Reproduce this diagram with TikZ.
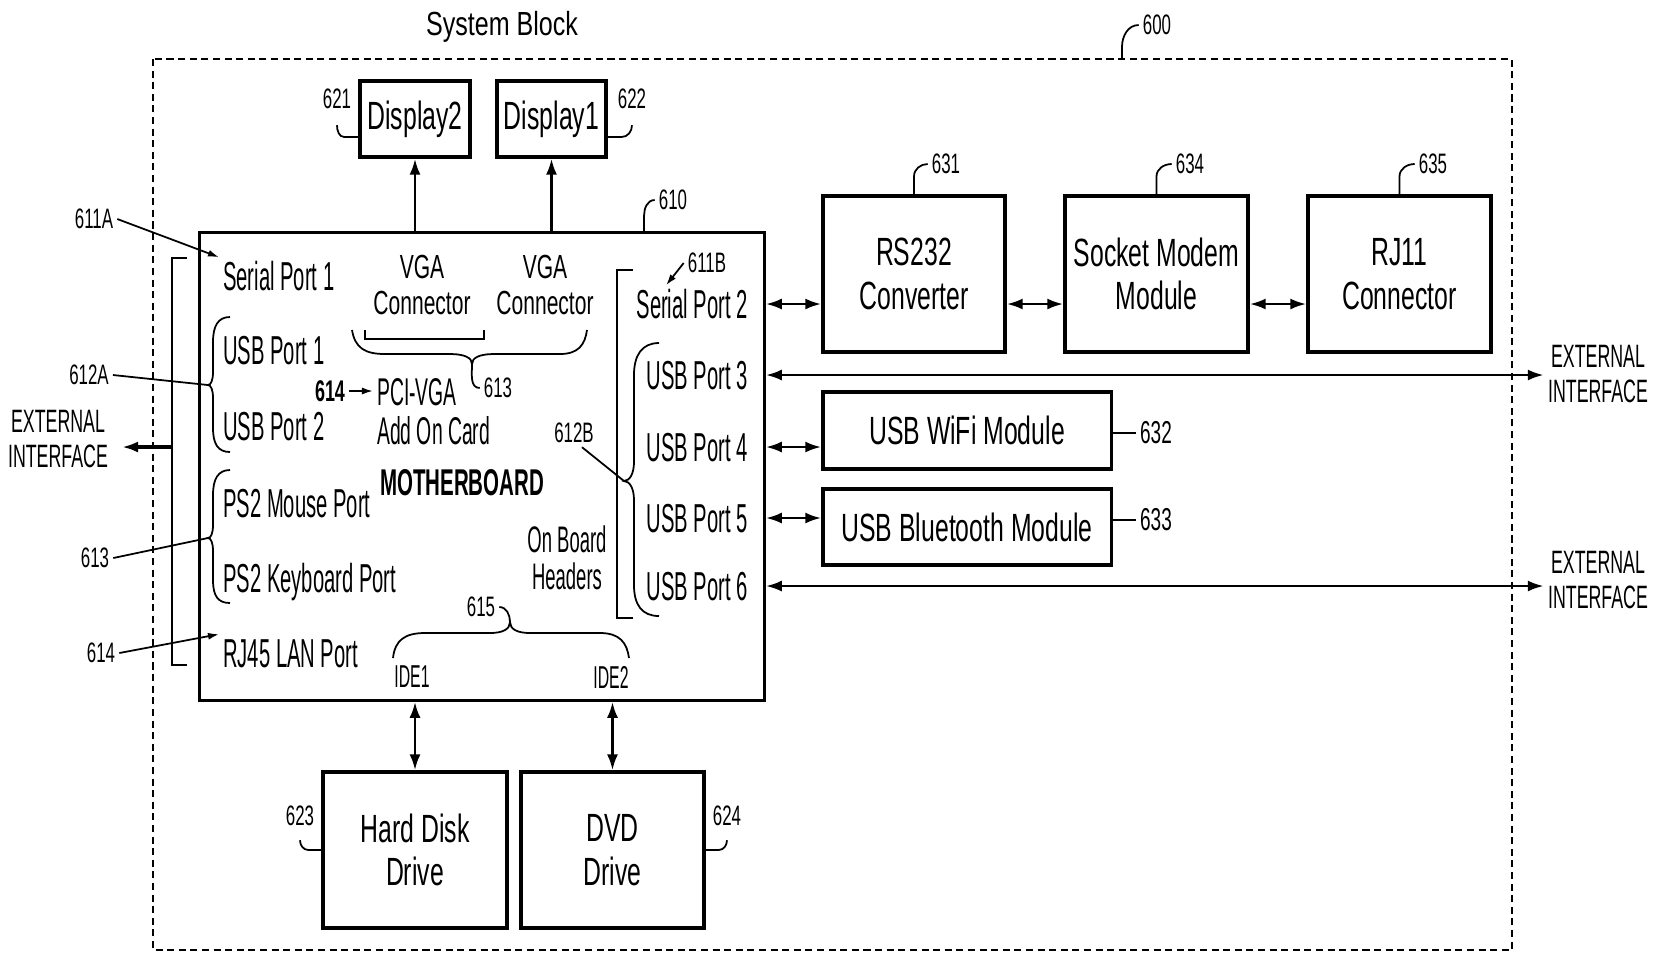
\documentclass[tikz,border=0pt]{standalone}
\usepackage{fontspec}
\setmainfont{Liberation Sans}[FakeStretch=0.55]
\newfontfamily\blkfont{Liberation Sans}[FakeStretch=0.63]
\newfontfamily\prtfont{Liberation Sans}[FakeStretch=0.5]
\newfontfamily\ttlfont{Liberation Sans}[FakeStretch=0.75]
\newfontfamily\nmfont{Liberation Sans}[FakeStretch=0.6]
\usetikzlibrary{arrows.meta}
\tikzset{
  blk/.style={draw,line width=0.9pt,inner sep=0pt,align=center,
    font=\blkfont\fontsize{11.2}{12.3}\selectfont},
  port/.style={inner sep=1pt,text height=8.3pt,text depth=0pt,
    font=\prtfont\fontsize{11.5}{12}\selectfont},
  note/.style={inner sep=1pt,align=left,font=\prtfont\fontsize{11}{11}\selectfont},
  num/.style={inner sep=1pt,font=\nmfont\fontsize{8}{9}\selectfont},
  extif/.style={inner sep=1pt,align=center,font=\fontsize{9.2}{9.7}\selectfont},
  link/.style={line width=0.8pt,{Latex[length=1.6mm,width=1.1mm]}-{Latex[length=1.6mm,width=1.1mm]}},
  uplink/.style={line width=0.8pt,-{Latex[length=1.6mm,width=1.1mm]}},
  lead/.style={line width=0.5pt},
  ptr/.style={line width=0.5pt,-{Latex[length=1.1mm,width=0.7mm]}},
  brc/.style={line width=0.5pt},
}
\begin{document}
\begin{tikzpicture}[x=0.01cm,y=0.01cm]
\useasboundingbox (0,0) rectangle (1663,-953);
% system block frame
\draw[line width=0.5pt,dash pattern=on 2pt off 1.3pt] (153,-59) rectangle (1512,-950);
\node[inner sep=0pt,font=\ttlfont\fontsize{9.5}{10}\selectfont] (sys) at (502,-27) {System Block};
\node[num] (n600) at (1157,-25) {600};
\coordinate (sysTop) at (1122,-59);
\draw[lead] (sysTop) -- ++(0,12) to[out=90,in=180] (n600.west);

% motherboard and blocks
\node[draw,line width=0.9pt,minimum width=5.64cm,minimum height=4.67cm] (mb) at (482,-466.5) {};
\node[blk,minimum width=1.10cm,minimum height=0.76cm] (disp2) at (415,-119) {Display2};
\node[blk,minimum width=1.09cm,minimum height=0.76cm] (disp1) at (551.5,-119) {Display1};
\node[blk,minimum width=1.82cm,minimum height=1.56cm] (rs) at (914,-274) {RS232\\Converter};
\node[blk,minimum width=1.83cm,minimum height=1.56cm] (modem) at (1156.5,-274) {Socket Modem\\Module};
\node[blk,minimum width=1.83cm,minimum height=1.56cm] (rj) at (1399.5,-274) {RJ11\\Connector};
\node[blk,minimum width=2.88cm,minimum height=0.77cm] (wifi) at (967,-430.5) {USB WiFi Module};
\node[blk,minimum width=2.88cm,minimum height=0.76cm] (bt) at (967,-527) {USB Bluetooth Module};
\node[blk,minimum width=1.84cm,minimum height=1.56cm] (hdd) at (415,-850) {Hard Disk\\Drive};
\node[blk,minimum width=1.83cm,minimum height=1.56cm] (dvd) at (612.5,-850) {DVD\\Drive};

% ports, left side
\node[port,anchor=west] (sp1) at (219,-276) {Serial Port 1};
\node[port,anchor=west] (usb1) at (219,-350) {USB Port 1};
\node[port,anchor=west] (usb2) at (219,-426) {USB Port 2};
\node[port,anchor=west] (ps2m) at (219,-503) {PS2 Mouse Port};
\node[port,anchor=west] (ps2k) at (219,-578) {PS2 Keyboard Port};
\node[port,anchor=west] (rj45) at (219,-653) {RJ45 LAN Port};
% ports, right side
\node[port,anchor=east] (sp2) at (752,-304) {Serial Port 2};
\node[port,anchor=east] (usb3) at (752,-375) {USB Port 3};
\node[port,anchor=east] (usb4) at (752,-447) {USB Port 4};
\node[port,anchor=east] (usb5) at (752,-518) {USB Port 5};
\node[port,anchor=east] (usb6) at (752,-586) {USB Port 6};

% inner texts
\node[inner sep=0pt,align=center,font=\blkfont\fontsize{9.5}{10}\selectfont] (vgaA) at (422,-285) {VGA\\Connector};
\node[inner sep=0pt,align=center,font=\blkfont\fontsize{9.5}{10}\selectfont] (vgaB) at (545,-285) {VGA\\Connector};
\node[note,anchor=west] (pci) at (373,-412) {PCI-VGA\\Add On Card};
\node[font=\bfseries\fontsize{10.6}{11}\selectfont,inner sep=0pt] (mbt) at (462,-483) {MOTHERBOARD};
\node[note,align=center,font=\prtfont\fontsize{10.5}{10.5}\selectfont] (hdr) at (567,-558) {On Board\\Headers};
\node[inner sep=0pt,font=\prtfont\fontsize{9}{9}\selectfont] (ide1) at (412,-677) {IDE1};
\node[inner sep=0pt,font=\prtfont\fontsize{9}{9}\selectfont] (ide2) at (611,-677) {IDE2};

% external interfaces
\node[extif] (extL) at (58,-439) {EXTERNAL\\INTERFACE};
\node[extif] (extR1) at (1598,-374) {EXTERNAL\\INTERFACE};
\node[extif] (extR2) at (1598,-580) {EXTERNAL\\INTERFACE};

% connectors
\draw[link] (mb.east |- sp2) -- (rs.west |- sp2);
\draw[link] (rs.east |- sp2) -- (modem.west |- sp2);
\draw[link] (modem.east |- sp2) -- (rj.west |- sp2);
\draw[link] (mb.east |- usb3) -- (extR1.west |- usb3);
\draw[link] (mb.east |- usb4) -- (wifi.west |- usb4);
\draw[link] (mb.east |- usb5) -- (bt.west |- usb5);
\draw[link] (mb.east |- usb6) -- (extR2.west |- usb6);
\draw[uplink] (mb.north -| disp2) -- (disp2.south);
\draw[uplink] (mb.north -| disp1) -- (disp1.south);
\draw[link] (mb.south -| hdd) -- (hdd.north);
\draw[link] (mb.south -| dvd) -- (dvd.north);

% left bracket and braces
\coordinate (brL) at (172,-447);
\coordinate (extLtip) at (122,-447);
\draw[brc] (187,-258) -- (172,-258) -- (172,-665) -- (187,-665);
\draw[uplink,line width=0.9pt] (brL) -- (extLtip);
\coordinate (brA) at (208,-385);
\draw[brc] (230,-317) .. controls (218,-317) and (213,-326) .. (213,-342) -- (213,-372)
  .. controls (213,-380) and (211,-385) .. (brA) .. controls (211,-385) and (213,-390) .. (213,-398)
  -- (213,-428) .. controls (213,-444) and (218,-452) .. (230,-452);
\coordinate (brC) at (208,-538);
\draw[brc] (230,-470) .. controls (218,-470) and (213,-479) .. (213,-495) -- (213,-525)
  .. controls (213,-533) and (211,-538) .. (brC) .. controls (211,-538) and (213,-543) .. (213,-551)
  -- (213,-580) .. controls (213,-596) and (218,-603) .. (230,-603);

% right bracket and brace
\coordinate (brB) at (624,-481);
\draw[brc] (633,-270) -- (617,-270) -- (617,-618) -- (633,-618);
\draw[brc] (659,-343) .. controls (642,-343) and (634,-355) .. (634,-375) -- (634,-462)
  .. controls (634,-473) and (630,-481) .. (brB) .. controls (630,-481) and (634,-489) .. (634,-500)
  -- (634,-585) .. controls (634,-605) and (642,-616) .. (659,-616);

% VGA brace
\coordinate (brV) at (472,-364);
\draw[brc] (365,-330) -- (365,-339) -- (484,-339) -- (484,-330);
\draw[brc] (352,-330) .. controls (355,-348) and (365,-354) .. (385,-354) -- (450,-354)
  .. controls (465,-354) and (472,-358) .. (brV) .. controls (472,-358) and (479,-354) .. (494,-354)
  -- (560,-354) .. controls (578,-354) and (585,-345) .. (587,-330);
\node[num] (n613b) at (498,-388) {613};
\draw[brc] (brV) to[out=-90,in=180] (n613b.west);

% IDE brace
\coordinate (brI) at (510,-622);
\draw[brc] (393,-658) .. controls (395,-640) and (405,-633) .. (425,-633) -- (490,-633)
  .. controls (503,-633) and (510,-629) .. (brI) .. controls (510,-629) and (517,-633) .. (530,-633)
  -- (600,-633) .. controls (620,-633) and (627,-643) .. (629,-658);
\node[num] (n615) at (481,-607) {615};
\draw[brc] (brI) to[out=90,in=0] (n615.east);

% reference numerals
\node[num] (n611A) at (94,-219) {611A};
\draw[ptr] (n611A.east) -- (sp1.north west);
\node[num] (n612A) at (89,-375) {612A};
\draw[brc] (n612A.east) -- (brA);
\node[num] (n613a) at (95,-558) {613};
\draw[brc] (n613a.east) -- (brC);
\node[num] (n614a) at (101,-653) {614};
\draw[ptr] (n614a.east) -- (rj45.north west);
\node[num,font=\nmfont\bfseries\fontsize{8.5}{9}\selectfont] (n614b) at (330,-391) {614};
\draw[ptr] (n614b.east) -- (pci.west |- n614b);
\node[num] (n612B) at (574,-433) {612B};
\draw[brc] ([xshift=0.08cm]n612B.south) -- (brB);
\node[num] (n611B) at (707,-263) {611B};
\draw[ptr] (n611B.west) -- ([xshift=-0.26cm]sp2.north);
\node[num] (n610) at (673,-200) {610};
\draw[lead] ([xshift=1.62cm]mb.north) -- ++(0,16) to[out=90,in=180] (n610.west);
\node[num] (n621) at (337,-99) {621};
\draw[lead] ([yshift=-0.18cm]disp2.west) -- ++(-14,0) to[out=180,in=-90] ([yshift=-0.12cm]n621.south);
\node[num] (n622) at (632,-99) {622};
\draw[lead] ([yshift=-0.18cm]disp1.east) -- ++(14,0) to[out=0,in=-90] ([yshift=-0.12cm]n622.south);
\node[num] (n623) at (300,-816) {623};
\draw[lead] (hdd.west) -- ++(-13,0) to[out=180,in=-90] ([yshift=-0.1cm]n623.south);
\node[num] (n624) at (727,-816) {624};
\draw[lead] (dvd.east) -- ++(13,0) to[out=0,in=-90] ([yshift=-0.1cm]n624.south);
\node[num] (n631) at (946,-164) {631};
\draw[lead] (rs.north) -- ++(0,18) to[out=90,in=180] (n631.west);
\node[num] (n634) at (1190,-164) {634};
\draw[lead] (modem.north) -- ++(0,18) to[out=90,in=180] (n634.west);
\node[num] (n635) at (1433,-164) {635};
\draw[lead] (rj.north) -- ++(0,18) to[out=90,in=180] (n635.west);
\node[num,font=\nmfont\fontsize{9}{9}\selectfont] (n632) at (1156,-433) {632};
\draw[lead] (wifi.east |- n632) -- (n632.west);
\node[num,font=\nmfont\fontsize{9}{9}\selectfont] (n633) at (1156,-520) {633};
\draw[lead] (bt.east |- n633) -- (n633.west);
\end{tikzpicture}
\end{document}
